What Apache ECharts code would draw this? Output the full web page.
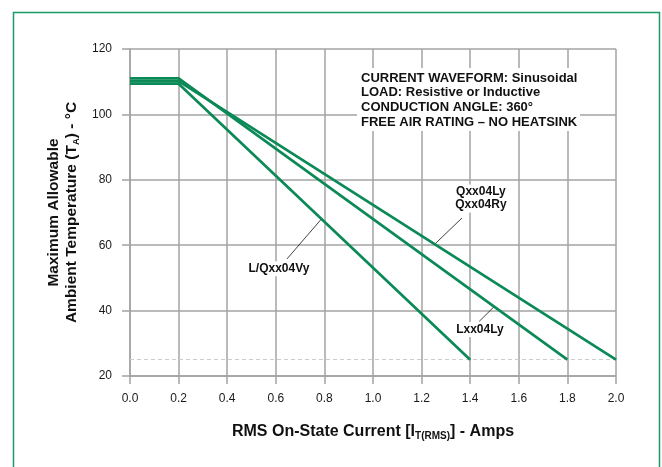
<!DOCTYPE html>
<html>
<head>
<meta charset="utf-8">
<script src="https://cdn.jsdelivr.net/npm/echarts@6/dist/echarts.min.js"></script>
<style>
html,body{margin:0;padding:0;background:#fff;}
#c{width:662px;height:467px;}
</style>
</head>
<body>
<div id="c"></div>
<script>
// ---- data ----
var xTicks = [0.0, 0.2, 0.4, 0.6, 0.8, 1.0, 1.2, 1.4, 1.6, 1.8, 2.0];
var yTicks = [20, 40, 60, 80, 100, 120];
var seriesNames = ['L/Qxx04Vy', 'Lxx04Ly', 'Qxx04Ly / Qxx04Ry'];
var currentVy = [0, 0.2, 1.4];
var tempVy = [109.4, 109.4, 25];
var currentLxx = [0, 0.2, 1.8];
var tempLxx = [111, 111, 25];
var currentQxx = [0, 0.2, 2.0];
var tempQxx = [110.2, 110.2, 25];
var ambientRef = 25;
var conditions = ['CURRENT WAVEFORM: Sinusoidal', 'LOAD: Resistive or Inductive', 'CONDUCTION ANGLE: 360\u00b0', 'FREE AIR RATING \u2013 NO HEATSINK'];
// annotation label anchors and leader lines (data units)
var labelVy = [0.613, 52.8];
var leaderVy = [[0.646, 55.8], [0.790, 68.2]];
var labelLxx = [1.440, 34.2];
var leaderLxx = [[1.437, 36.7], [1.497, 41.1]];
var labelQxx = [1.444, 74.3];
var leaderQxx = [[1.366, 68.3], [1.251, 60.1]];

function pairs(xs, ys){ return xs.map(function(x,i){ return [x, ys[i]]; }); }

var GREEN = '#0b8a57';
var GRIDC = '#a3a3a3';
var FONT = 'Liberation Sans, Arial, sans-serif';

function leader(seg){
  return [{coord: seg[0]}, {coord: seg[1]}];
}
function labelPoint(pos, text){
  return {coord: pos, value: text, symbol: 'rect', symbolSize: 1,
    itemStyle: {color: 'rgba(0,0,0,0)'},
    label: {show: true, position: 'inside', formatter: text, color: '#111',
      fontFamily: FONT, fontWeight: 'bold', fontSize: 12, lineHeight: 13,
      backgroundColor: '#fff', padding: [1, 2]}};
}

var chart = echarts.init(document.getElementById('c'));
chart.setOption({
  animation: false,
  backgroundColor: '#fff',
  grid: {left: 130, right: 46, top: 49, bottom: 91, containLabel: false},
  xAxis: {
    type: 'value', min: 0, max: 2, interval: 0.2,
    name: 'RMS On-State Current [I{sub|T(RMS)}] - Amps',
    nameLocation: 'middle', nameGap: 46,
    nameTextStyle: {fontFamily: FONT, fontWeight: 'bold', fontSize: 16, color: '#111',
      rich: {sub: {fontFamily: FONT, fontWeight: 'bold', fontSize: 10, color: '#111', padding: [9, 0, 0, 0]}}},
    axisLine: {show: true, lineStyle: {color: GRIDC, width: 1.5}},
    axisTick: {show: true, length: 8, lineStyle: {color: GRIDC, width: 1.5}},
    axisLabel: {margin: 17, fontFamily: FONT, fontSize: 12, color: '#1a1a1a',
      formatter: function(v){ return v.toFixed(1); }},
    splitLine: {show: true, lineStyle: {color: GRIDC, width: 1.5}}
  },
  yAxis: {
    type: 'value', min: 20, max: 120, interval: 20,
    name: 'Maximum Allowable\nAmbient Temperature (T{sub|A}) - \u00b0C',
    nameLocation: 'middle', nameGap: 44, nameRotate: 90,
    nameTextStyle: {fontFamily: FONT, fontWeight: 'bold', fontSize: 15.5, lineHeight: 18, color: '#111',
      rich: {sub: {fontFamily: FONT, fontWeight: 'bold', fontSize: 9.5, color: '#111', padding: [9, 0, 0, 0]}}},
    axisLine: {show: true, lineStyle: {color: GRIDC, width: 1.5}},
    axisTick: {show: true, length: 8, lineStyle: {color: GRIDC, width: 1.5}},
    axisLabel: {margin: 18, fontFamily: FONT, fontSize: 12, color: '#1a1a1a'},
    splitLine: {show: true, lineStyle: {color: GRIDC, width: 1.5}}
  },
  series: [
    {name: seriesNames[0], type: 'line', data: pairs(currentVy, tempVy), symbol: 'none',
     lineStyle: {color: GREEN, width: 2.7}, z: 5,
     markLine: {silent: true, symbol: 'none', label: {show: false},
       lineStyle: {color: '#111', width: 0.8, type: 'solid'},
       data: [leader(leaderVy)]},
     markPoint: {silent: true, data: [labelPoint(labelVy, seriesNames[0])]}},
    {name: seriesNames[1], type: 'line', data: pairs(currentLxx, tempLxx), symbol: 'none',
     lineStyle: {color: GREEN, width: 2.7}, z: 5,
     markLine: {silent: true, symbol: 'none', label: {show: false},
       lineStyle: {color: '#111', width: 0.8, type: 'solid'},
       data: [leader(leaderLxx)]},
     markPoint: {silent: true, data: [labelPoint(labelLxx, seriesNames[1])]}},
    {name: seriesNames[2], type: 'line', data: pairs(currentQxx, tempQxx), symbol: 'none',
     lineStyle: {color: GREEN, width: 2.7}, z: 5,
     markLine: {silent: true, symbol: 'none', label: {show: false},
       lineStyle: {color: '#111', width: 0.8, type: 'solid'},
       data: [leader(leaderQxx)]},
     markPoint: {silent: true, data: [labelPoint(labelQxx, 'Qxx04Ly\nQxx04Ry')]}},
    {name: 'ambient', type: 'line', data: [], z: 2,
     markLine: {silent: true, symbol: 'none', label: {show: false},
       lineStyle: {color: '#ccc', width: 1, type: [4, 3]},
       data: [{yAxis: ambientRef}]}}
  ],
  graphic: [
    {type: 'rect', left: 11, top: 10, z: 0, silent: true,
     shape: {width: 646, height: 480},
     style: {fill: 'none', stroke: '#1a9a66', lineWidth: 1.5}},
    {type: 'rect', left: 357, top: 68, z: 10, silent: true,
     shape: {width: 223, height: 63},
     style: {fill: '#fff'}},
    {type: 'text', left: 361, top: 71, z: 11, silent: true,
     style: {text: conditions.join('\n'), fill: '#111',
       font: 'bold 13px ' + FONT, lineHeight: 14.6}}
  ]
});
</script>
</body>
</html>
